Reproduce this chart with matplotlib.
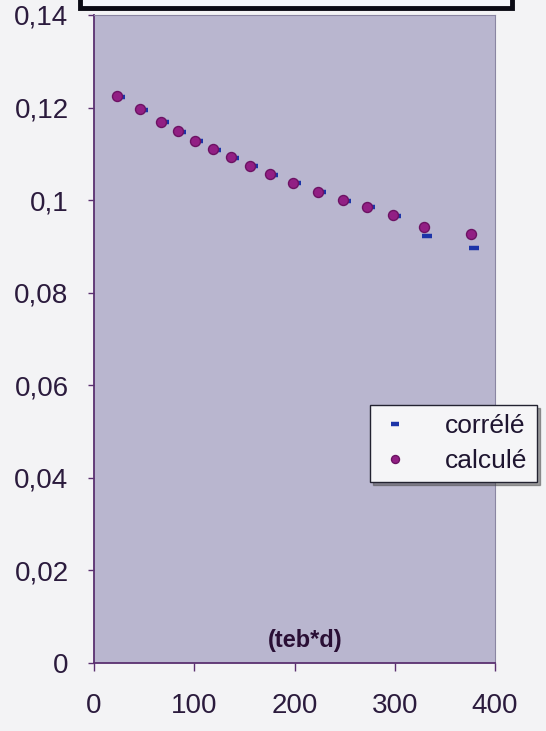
import matplotlib
matplotlib.use('Agg')
import matplotlib.pyplot as plt
from matplotlib.patches import Rectangle
from matplotlib.transforms import offset_copy
from matplotlib.ticker import FuncFormatter

# données
teb_d   = [23, 46, 67, 84, 101, 119, 137, 156, 176, 199, 223, 248, 272, 298, 329, 376]
calcule = [0.1225, 0.1196, 0.1169, 0.1149, 0.1128, 0.1110, 0.1093, 0.1074,
           0.1056, 0.1038, 0.1018, 0.1000, 0.0986, 0.0967, 0.0943, 0.0926]
correle = [0.1223, 0.1195, 0.1168, 0.1148, 0.1127, 0.1109, 0.1092, 0.1073,
           0.1055, 0.1037, 0.1017, 0.0999, 0.0985, 0.0966, 0.0922, 0.0896]
x_ticks = [0, 100, 200, 300, 400]
y_ticks = [0, 0.02, 0.04, 0.06, 0.08, 0.10, 0.12, 0.14]

plt.rcParams['font.family'] = ['Liberation Sans', 'DejaVu Sans']

W, H = 546, 731
fig = plt.figure(figsize=(W / 100, H / 100), dpi=100)
fig.patch.set_facecolor('#f3f3f5')

ax = fig.add_axes([94 / W, 1 - 663 / H, (495 - 94) / W, (663 - 15) / H])
ax.set_facecolor('#b9b6cf')

# cadre du titre (coupé en haut)
fig.patches.append(Rectangle((80 / W, 1 - 8 / H), (512 - 80) / W, 20 / H,
                             transform=fig.transFigure, facecolor='#f4f6fb',
                             edgecolor='#0a0a14', linewidth=3.5, clip_on=False))

# tirets légèrement décalés comme sur le scan
tr = offset_copy(ax.transData, fig=fig, x=3, y=0, units='dots')
ax.plot(teb_d, correle, linestyle='none', marker='_', markersize=6.5,
        markeredgewidth=3.2, color='#1c34a8', transform=tr, label='corrélé')
ax.plot(teb_d, calcule, linestyle='none', marker='o', markersize=7.2,
        markerfacecolor='#921f84', markeredgecolor='#6c1263',
        markeredgewidth=1.0, label='calculé')

ax.set_xlim(0, 400)
ax.set_ylim(0, 0.14)
ax.set_xticks(x_ticks)
ax.set_yticks(y_ticks)
ax.yaxis.set_major_formatter(FuncFormatter(lambda v, p: ('%g' % round(v, 2)).replace('.', ',')))

lab_col = '#2b1b3d'
ax.tick_params(axis='y', length=4.3, width=1, color='#5a3070', pad=14,
               labelsize=20, labelcolor=lab_col)
ax.tick_params(axis='x', length=5.8, width=1, color='#5a3070', pad=16,
               labelsize=20, labelcolor=lab_col)

for s in ['left', 'bottom']:
    ax.spines[s].set_color('#5a3070')
    ax.spines[s].set_linewidth(1.3)
for s in ['top', 'right']:
    ax.spines[s].set_color('#8a86a2')
    ax.spines[s].set_linewidth(0.8)

ax.text(0.526, 0.034, '(teb*d)', transform=ax.transAxes, ha='center', va='center',
        fontsize=17, fontweight='bold', color='#2a0f35')

leg = ax.legend(loc='upper left', bbox_to_anchor=(370 / W, 1 - 405 / H),
                bbox_transform=fig.transFigure, frameon=True, fancybox=False,
                shadow=True, framealpha=1, fontsize=19, numpoints=1,
                markerscale=0.8, handlelength=1.2, handletextpad=1.3,
                labelspacing=0.4, borderpad=0.35, borderaxespad=0)
leg.get_frame().set_facecolor('#f5f5f7')
leg.get_frame().set_edgecolor('#222230')
leg.get_frame().set_linewidth(1.0)
for t in leg.get_texts():
    t.set_color('#1e1530')

fig.savefig('out.png', dpi=100, facecolor=fig.get_facecolor())
